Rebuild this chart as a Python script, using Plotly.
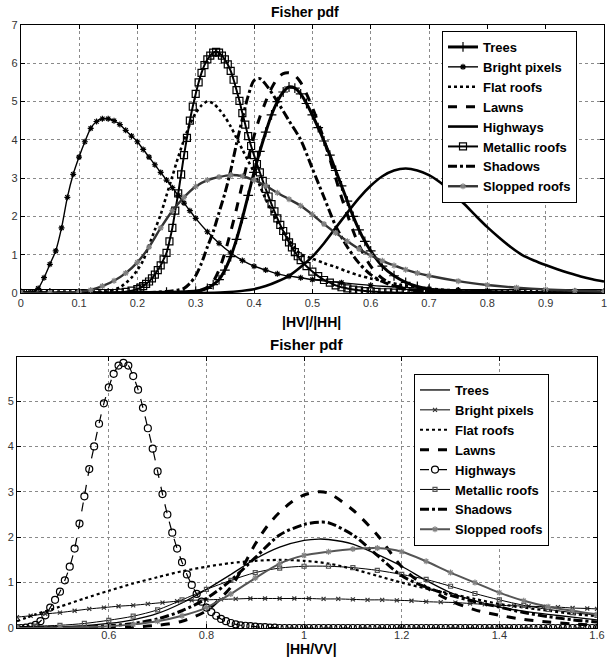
import plotly.graph_objects as go

# ---------------- Top panel : |HV|/|HH| ----------------
top_trees_x = [0, 0.05, 0.10, 0.15, 0.20, 0.25, 0.28, 0.30, 0.32, 0.33, 0.34, 0.35, 0.36, 0.37, 0.38, 0.39, 0.40, 0.41, 0.42, 0.43, 0.44, 0.45, 0.46, 0.47, 0.48, 0.49, 0.50, 0.51, 0.52, 0.53, 0.54, 0.55, 0.56, 0.57, 0.58, 0.59, 0.60, 0.62, 0.64, 0.66, 0.68, 0.70, 0.75, 0.80, 0.85, 0.90, 0.95, 1.0]
top_trees_y = [0, 0, 0, 0, 0.01, 0.02, 0.03, 0.05, 0.12, 0.22, 0.35, 0.6, 0.95, 1.4, 1.95, 2.55, 3.15, 3.7, 4.2, 4.65, 5.0, 5.25, 5.38, 5.35, 5.2, 4.95, 4.65, 4.32, 3.97, 3.6, 3.2, 2.8, 2.4, 2.0, 1.65, 1.35, 1.1, 0.7, 0.45, 0.28, 0.17, 0.1, 0.03, 0.01, 0, 0, 0, 0]

top_bright_x = [0, 0.01, 0.02, 0.03, 0.04, 0.05, 0.06, 0.07, 0.08, 0.09, 0.10, 0.11, 0.12, 0.13, 0.14, 0.15, 0.16, 0.17, 0.18, 0.19, 0.20, 0.21, 0.22, 0.23, 0.24, 0.25, 0.26, 0.27, 0.28, 0.29, 0.30, 0.32, 0.34, 0.36, 0.38, 0.40, 0.42, 0.44, 0.46, 0.48, 0.50, 0.55, 0.60, 0.65, 0.70, 0.75, 0.80, 0.85, 0.90, 0.95, 1.0]
top_bright_y = [0, 0, 0.02, 0.12, 0.4, 0.75, 1.1, 1.7, 2.5, 3.1, 3.55, 3.95, 4.3, 4.48, 4.55, 4.55, 4.5, 4.4, 4.25, 4.1, 3.95, 3.75, 3.55, 3.35, 3.15, 2.95, 2.75, 2.55, 2.35, 2.15, 1.95, 1.6, 1.3, 1.05, 0.85, 0.7, 0.6, 0.5, 0.44, 0.4, 0.35, 0.27, 0.2, 0.15, 0.11, 0.08, 0.06, 0.04, 0.03, 0.02, 0.02]

top_flat_x = [0, 0.05, 0.10, 0.15, 0.17, 0.19, 0.20, 0.21, 0.22, 0.23, 0.24, 0.25, 0.26, 0.27, 0.28, 0.29, 0.30, 0.31, 0.32, 0.33, 0.34, 0.35, 0.36, 0.37, 0.38, 0.39, 0.40, 0.41, 0.42, 0.43, 0.44, 0.45, 0.46, 0.47, 0.48, 0.50, 0.52, 0.54, 0.56, 0.58, 0.60, 0.62, 0.65, 0.70, 0.75, 0.80, 0.90, 1.0]
top_flat_y = [0, 0, 0, 0.05, 0.15, 0.4, 0.6, 0.85, 1.25, 1.65, 2.05, 2.55, 3.05, 3.55, 4.0, 4.4, 4.7, 4.9, 5.0, 4.95, 4.8, 4.6, 4.35, 4.05, 3.75, 3.45, 3.15, 2.8, 2.45, 2.15, 1.85, 1.6, 1.38, 1.18, 1.02, 0.9, 0.78, 0.68, 0.56, 0.46, 0.38, 0.32, 0.22, 0.12, 0.06, 0.03, 0.01, 0]

top_lawns_x = [0, 0.10, 0.20, 0.25, 0.30, 0.32, 0.33, 0.34, 0.35, 0.36, 0.37, 0.38, 0.39, 0.40, 0.41, 0.42, 0.43, 0.44, 0.45, 0.46, 0.47, 0.48, 0.49, 0.50, 0.51, 0.52, 0.53, 0.54, 0.55, 0.56, 0.57, 0.58, 0.60, 0.62, 0.64, 0.67, 0.70, 0.80, 0.90, 1.0]
top_lawns_y = [0, 0, 0, 0, 0.03, 0.15, 0.3, 0.6, 1.05, 1.6, 2.2, 2.85, 3.5, 4.1, 4.6, 5.0, 5.35, 5.6, 5.73, 5.75, 5.68, 5.5, 5.2, 4.85, 4.45, 4.0, 3.5, 3.0, 2.5, 2.05, 1.62, 1.25, 0.7, 0.38, 0.2, 0.08, 0.03, 0, 0, 0]

top_highways_x = [0, 0.10, 0.20, 0.30, 0.35, 0.40, 0.42, 0.44, 0.46, 0.48, 0.50, 0.52, 0.54, 0.56, 0.58, 0.60, 0.62, 0.64, 0.66, 0.68, 0.70, 0.72, 0.74, 0.76, 0.78, 0.80, 0.82, 0.84, 0.86, 0.88, 0.90, 0.92, 0.94, 0.96, 0.98, 1.0]
top_highways_y = [0, 0, 0, 0, 0.02, 0.1, 0.18, 0.3, 0.45, 0.68, 0.95, 1.3, 1.7, 2.1, 2.48, 2.8, 3.05, 3.2, 3.25, 3.2, 3.08, 2.88, 2.62, 2.33, 2.02, 1.72, 1.45, 1.2, 0.99, 0.85, 0.73, 0.62, 0.52, 0.43, 0.36, 0.3]

top_metal_x = [0, 0.01, 0.02, 0.03, 0.04, 0.05, 0.06, 0.07, 0.08, 0.09, 0.10, 0.11, 0.12, 0.13, 0.14, 0.15, 0.16, 0.17, 0.18, 0.19,
               0.200, 0.205, 0.210, 0.215, 0.220, 0.225, 0.230, 0.235, 0.240, 0.245, 0.250, 0.255, 0.260, 0.265, 0.270, 0.275, 0.280, 0.285, 0.290, 0.295,
               0.300, 0.305, 0.310, 0.315, 0.320, 0.325, 0.330, 0.335, 0.340, 0.345, 0.350, 0.355, 0.360, 0.365, 0.370, 0.375, 0.380, 0.385, 0.390, 0.395,
               0.400, 0.405, 0.410, 0.415, 0.420, 0.425, 0.430, 0.435, 0.440, 0.445, 0.450, 0.455, 0.460, 0.465, 0.470, 0.475, 0.480,
               0.49, 0.50, 0.51, 0.52, 0.53, 0.54, 0.55, 0.56, 0.57, 0.58, 0.59, 0.60, 0.61, 0.62, 0.63, 0.64, 0.65, 0.66, 0.67, 0.68, 0.69,
               0.70, 0.71, 0.72, 0.73, 0.74, 0.75, 0.76, 0.77, 0.78, 0.79, 0.80, 0.81, 0.82, 0.83, 0.84, 0.85, 0.86, 0.87, 0.88, 0.89,
               0.90, 0.91, 0.92, 0.93, 0.94, 0.95, 0.96, 0.97, 0.98, 0.99, 1.00]
top_metal_y = [0, 0, 0, 0, 0, 0, 0, 0, 0, 0, 0, 0, 0, 0, 0, 0, 0, 0.01, 0.03, 0.06,
               0.1, 0.14, 0.18, 0.24, 0.3, 0.38, 0.48, 0.6, 0.72, 0.88, 1.05, 1.35, 1.7, 2.15, 2.6, 3.1, 3.6, 4.05, 4.5, 4.87,
               5.2, 5.5, 5.75, 5.95, 6.1, 6.2, 6.28, 6.3, 6.28, 6.2, 6.1, 5.97, 5.8, 5.57, 5.3, 5.02, 4.7, 4.4, 4.1, 3.84,
               3.6, 3.37, 3.15, 2.93, 2.72, 2.52, 2.32, 2.13, 1.95, 1.78, 1.62, 1.47, 1.32, 1.19, 1.07, 0.96, 0.86,
               0.7, 0.56, 0.44, 0.34, 0.27, 0.2, 0.15, 0.12, 0.09, 0.07, 0.05, 0.04, 0.03, 0.02, 0.02, 0.01, 0.01, 0, 0, 0, 0,
               0, 0, 0, 0, 0, 0, 0, 0, 0, 0, 0, 0, 0, 0, 0, 0, 0, 0, 0, 0,
               0, 0, 0, 0, 0, 0, 0, 0, 0, 0, 0]

top_shadows_x = [0, 0.10, 0.20, 0.25, 0.27, 0.28, 0.29, 0.30, 0.31, 0.32, 0.33, 0.34, 0.35, 0.36, 0.37, 0.38, 0.39, 0.40, 0.41, 0.42, 0.44, 0.46, 0.48, 0.50, 0.52, 0.54, 0.56, 0.58, 0.60, 0.62, 0.64, 0.66, 0.70, 0.80, 0.90, 1.0]
top_shadows_y = [0, 0, 0, 0.04, 0.08, 0.12, 0.25, 0.45, 0.78, 1.2, 1.6, 2.1, 2.6, 3.2, 3.9, 4.55, 5.15, 5.55, 5.6, 5.45, 5.0, 4.5, 4.0, 3.25, 2.5, 1.75, 1.2, 0.78, 0.48, 0.3, 0.18, 0.1, 0.04, 0, 0, 0]

top_slopped_x = [0, 0.05, 0.10, 0.12, 0.14, 0.16, 0.18, 0.20, 0.22, 0.24, 0.26, 0.28, 0.30, 0.32, 0.34, 0.36, 0.38, 0.40, 0.42, 0.44, 0.46, 0.48, 0.50, 0.52, 0.54, 0.56, 0.58, 0.60, 0.62, 0.64, 0.66, 0.68, 0.70, 0.75, 0.80, 0.85, 0.90, 0.95, 1.0]
top_slopped_y = [0, 0, 0.03, 0.08, 0.18, 0.32, 0.52, 0.8, 1.2, 1.7, 2.15, 2.5, 2.78, 2.95, 3.03, 3.08, 3.05, 2.95, 2.8, 2.62, 2.45, 2.28, 2.05, 1.8, 1.57, 1.35, 1.15, 0.98, 0.84, 0.72, 0.61, 0.52, 0.45, 0.31, 0.21, 0.14, 0.09, 0.06, 0.04]

# ---------------- Bottom panel : |HH/VV| ----------------
bot_trees_x = [0.412, 0.50, 0.55, 0.60, 0.65, 0.70, 0.75, 0.80, 0.85, 0.90, 0.95, 1.00, 1.03, 1.05, 1.10, 1.15, 1.20, 1.25, 1.30, 1.35, 1.40, 1.45, 1.50, 1.55, 1.60]
bot_trees_y = [0.01, 0.03, 0.05, 0.1, 0.18, 0.32, 0.55, 0.85, 1.18, 1.52, 1.78, 1.93, 1.96, 1.95, 1.85, 1.62, 1.36, 1.05, 0.78, 0.6, 0.46, 0.37, 0.3, 0.24, 0.18]

bot_bright_x = [0.412, 0.44, 0.47, 0.50, 0.53, 0.56, 0.59, 0.62, 0.65, 0.68, 0.71, 0.74, 0.77, 0.80, 0.83, 0.86, 0.89, 0.92, 0.95, 0.98, 1.01, 1.04, 1.07, 1.10, 1.13, 1.16, 1.19, 1.22, 1.25, 1.28, 1.31, 1.34, 1.37, 1.40, 1.43, 1.46, 1.49, 1.52, 1.55, 1.58, 1.60]
bot_bright_y = [0.24, 0.27, 0.31, 0.34, 0.38, 0.42, 0.45, 0.48, 0.5, 0.53, 0.56, 0.59, 0.61, 0.62, 0.63, 0.64, 0.65, 0.65, 0.65, 0.65, 0.65, 0.64, 0.64, 0.63, 0.62, 0.62, 0.61, 0.6, 0.58, 0.57, 0.56, 0.54, 0.52, 0.5, 0.49, 0.48, 0.47, 0.46, 0.44, 0.43, 0.42]

bot_flat_x = [0.412, 0.45, 0.50, 0.55, 0.60, 0.65, 0.70, 0.75, 0.80, 0.85, 0.90, 0.95, 1.00, 1.05, 1.10, 1.15, 1.20, 1.25, 1.30, 1.35, 1.40, 1.45, 1.50, 1.55, 1.60]
bot_flat_y = [0.15, 0.3, 0.47, 0.65, 0.82, 0.98, 1.12, 1.25, 1.35, 1.43, 1.48, 1.5, 1.48, 1.42, 1.3, 1.15, 1.0, 0.87, 0.76, 0.64, 0.53, 0.45, 0.38, 0.31, 0.26]

bot_lawns_x = [0.412, 0.50, 0.60, 0.65, 0.70, 0.75, 0.80, 0.85, 0.875, 0.90, 0.925, 0.95, 0.975, 1.00, 1.03, 1.05, 1.10, 1.15, 1.20, 1.25, 1.30, 1.35, 1.40, 1.45, 1.50, 1.55, 1.60]
bot_lawns_y = [0, 0, 0.0, 0.02, 0.06, 0.15, 0.38, 0.9, 1.35, 1.85, 2.25, 2.55, 2.78, 2.93, 3.0, 2.97, 2.6, 2.05, 1.35, 0.9, 0.6, 0.4, 0.28, 0.19, 0.13, 0.09, 0.06]

bot_highways_x = [0.412, 0.42, 0.43, 0.44, 0.45, 0.46, 0.47, 0.48, 0.49,
                  0.50, 0.51, 0.52, 0.53, 0.54, 0.55, 0.56, 0.57, 0.58, 0.59,
                  0.60, 0.61, 0.62, 0.63, 0.64, 0.65, 0.66, 0.67, 0.68, 0.69,
                  0.70, 0.71, 0.72, 0.73, 0.74, 0.75, 0.76, 0.77, 0.78, 0.79,
                  0.80, 0.81, 0.82, 0.83, 0.84, 0.85, 0.86, 0.87, 0.88, 0.89,
                  0.90, 0.91, 0.92, 0.93, 0.94, 0.95, 0.96, 0.97, 0.98, 0.99,
                  1.00, 1.01, 1.02, 1.03, 1.04, 1.05, 1.06, 1.07, 1.08, 1.09,
                  1.10, 1.11, 1.12, 1.13, 1.14, 1.15, 1.16, 1.17, 1.18, 1.19,
                  1.20, 1.21, 1.22, 1.23, 1.24, 1.25, 1.26, 1.27, 1.28, 1.29,
                  1.30, 1.31, 1.32, 1.33, 1.34, 1.35, 1.36, 1.37, 1.38, 1.39,
                  1.40, 1.41, 1.42, 1.43, 1.44, 1.45, 1.46, 1.47, 1.48, 1.49,
                  1.50, 1.51, 1.52, 1.53, 1.54, 1.55, 1.56, 1.57, 1.58, 1.59, 1.60]
bot_highways_y = [0, 0, 0.01, 0.03, 0.07, 0.15, 0.28, 0.45, 0.62,
                  0.8, 1.05, 1.35, 1.75, 2.3, 2.9, 3.5, 4.0, 4.5, 4.95,
                  5.3, 5.6, 5.78, 5.84, 5.78, 5.55, 5.25, 4.85, 4.4, 3.95,
                  3.45, 2.95, 2.5, 2.1, 1.75, 1.45, 1.18, 0.95, 0.75, 0.58,
                  0.45, 0.35, 0.27, 0.2, 0.15, 0.11, 0.08, 0.06, 0.05, 0.04,
                  0.03, 0.02, 0.02, 0.01, 0.01, 0, 0, 0, 0, 0,
                  0, 0, 0, 0, 0, 0, 0, 0, 0, 0,
                  0, 0, 0, 0, 0, 0, 0, 0, 0, 0,
                  0, 0, 0, 0, 0, 0, 0, 0, 0, 0,
                  0, 0, 0, 0, 0, 0, 0, 0, 0, 0,
                  0, 0, 0, 0, 0, 0, 0, 0, 0, 0,
                  0, 0, 0, 0, 0, 0, 0, 0, 0, 0, 0]

bot_metal_x = [0.412, 0.45, 0.50, 0.55, 0.60, 0.65, 0.70, 0.75, 0.80, 0.85, 0.90, 0.95, 1.00, 1.05, 1.10, 1.15, 1.20, 1.25, 1.30, 1.35, 1.40, 1.45, 1.50, 1.55, 1.60]
bot_metal_y = [0.02, 0.04, 0.06, 0.1, 0.17, 0.26, 0.4, 0.62, 0.85, 1.05, 1.22, 1.32, 1.36, 1.36, 1.33, 1.27, 1.18, 1.07, 0.92, 0.76, 0.62, 0.5, 0.41, 0.34, 0.28]

bot_shadows_x = [0.412, 0.50, 0.55, 0.60, 0.65, 0.70, 0.75, 0.80, 0.85, 0.90, 0.95, 1.00, 1.03, 1.05, 1.10, 1.15, 1.20, 1.25, 1.30, 1.35, 1.40, 1.45, 1.50, 1.55, 1.60]
bot_shadows_y = [0, 0.01, 0.02, 0.05, 0.1, 0.2, 0.38, 0.65, 1.05, 1.55, 2.05, 2.28, 2.33, 2.32, 2.05, 1.6, 1.15, 0.9, 0.72, 0.58, 0.46, 0.34, 0.25, 0.18, 0.13]

bot_slopped_x = [0.412, 0.50, 0.60, 0.65, 0.70, 0.75, 0.80, 0.85, 0.90, 0.95, 1.00, 1.05, 1.10, 1.15, 1.20, 1.25, 1.30, 1.35, 1.40, 1.45, 1.50, 1.55, 1.60]
bot_slopped_y = [0, 0.01, 0.04, 0.08, 0.15, 0.27, 0.45, 0.75, 1.1, 1.42, 1.6, 1.68, 1.74, 1.76, 1.68, 1.47, 1.22, 1.0, 0.78, 0.6, 0.47, 0.38, 0.3]

names = ["Trees", "Bright pixels", "Flat roofs", "Lawns", "Highways", "Metallic roofs", "Shadows", "Slopped roofs"]
top_data = [(top_trees_x, top_trees_y), (top_bright_x, top_bright_y), (top_flat_x, top_flat_y),
            (top_lawns_x, top_lawns_y), (top_highways_x, top_highways_y), (top_metal_x, top_metal_y),
            (top_shadows_x, top_shadows_y), (top_slopped_x, top_slopped_y)]
bot_data = [(bot_trees_x, bot_trees_y), (bot_bright_x, bot_bright_y), (bot_flat_x, bot_flat_y),
            (bot_lawns_x, bot_lawns_y), (bot_highways_x, bot_highways_y), (bot_metal_x, bot_metal_y),
            (bot_shadows_x, bot_shadows_y), (bot_slopped_x, bot_slopped_y)]
for xs, ys in top_data + bot_data:
    assert len(xs) == len(ys), (len(xs), len(ys))

# style: (line color, width, dash, mode, marker symbol, marker size, marker color)
top_styles = [
    ("black", 3, "solid", "lines+markers", "cross-thin-open", 7, "black"),
    ("black", 1.4, "solid", "lines+markers", "asterisk-open", 5, "black"),
    ("black", 2.6, "dot", "lines", None, 0, None),
    ("black", 3, "dash", "lines", None, 0, None),
    ("black", 2.6, "solid", "lines", None, 0, None),
    ("black", 2, "solid", "lines+markers", "square-open", 7, "black"),
    ("black", 3, "dashdot", "lines", None, 0, None),
    ("#333333", 2.4, "solid", "lines+markers", "asterisk-open", 5, "#808080"),
]
bot_styles = [
    ("black", 1.3, "solid", "lines", None, 0, None),
    ("black", 1.0, "solid", "lines+markers", "x-thin-open", 4, "#333333"),
    ("black", 2.2, "dot", "lines", None, 0, None),
    ("black", 3, "dash", "lines", None, 0, None),
    ("black", 1.2, "dash", "lines+markers", "circle-open", 7, "black"),
    ("black", 1.0, "solid", "lines+markers", "square-open", 4, "#555555"),
    ("black", 3, "dashdot", "lines", None, 0, None),
    ("#555555", 2.0, "solid", "lines+markers", "asterisk-open", 5, "#808080"),
]

fig = go.Figure()


def add(data, styles, xa, ya, leg):
    for name, (xs, ys), st in zip(names, data, styles):
        col, w, dash, mode, sym, ms, mcol = st
        kw = dict(x=xs, y=ys, name=name, mode=mode, xaxis=xa, yaxis=ya, legend=leg,
                  line=dict(color=col, width=w, dash=dash, shape="spline", smoothing=0.8))
        if sym:
            kw["marker"] = dict(symbol=sym, size=ms, color=mcol, line=dict(color=mcol, width=1.2))
        fig.add_trace(go.Scatter(**kw))


add(top_data, top_styles, "x", "y", "legend")
add(bot_data, bot_styles, "x2", "y2", "legend2")

W, H = 607, 657
axis_common = dict(showline=True, linecolor="black", linewidth=1, mirror="ticks", ticks="inside",
                   ticklen=4, tickcolor="black", showgrid=True, gridcolor="#8a8a8a", griddash="dot",
                   gridwidth=1, zeroline=False, automargin=False, ticklabeloverflow="allow",
                   tickfont=dict(family="Arial, Liberation Sans", size=11, color="#333333"))

leg_font = dict(family="Arial, Liberation Sans", size=13, color="black", weight="bold")

fig.update_layout(
    width=W, height=H, margin=dict(l=0, r=0, t=0, b=0),
    paper_bgcolor="white", plot_bgcolor="white",
    xaxis=dict(domain=[20.7 / W, 604 / W], range=[0, 1], tickvals=[0, 0.1, 0.2, 0.3, 0.4, 0.5, 0.6, 0.7, 0.8, 0.9, 1],
               ticktext=["0", "0.1", "0.2", "0.3", "0.4", "0.5", "0.6", "0.7", "0.8", "0.9", "1"], anchor="y", **axis_common),
    yaxis=dict(domain=[1 - 293 / H, 1 - 25 / H], range=[0, 7], tickvals=[0, 1, 2, 3, 4, 5, 6, 7], anchor="x", **axis_common),
    xaxis2=dict(domain=[17 / W, 597 / W], range=[0.412, 1.60], tickvals=[0.6, 0.8, 1.0, 1.2, 1.4, 1.6],
                ticktext=["0.6", "0.8", "1", "1.2", "1.4", "1.6"], anchor="y2", ticklabelstandoff=-3, **axis_common),
    yaxis2=dict(domain=[1 - 628 / H, 1 - 357 / H], range=[0, 5.97], tickvals=[0, 1, 2, 3, 4, 5], anchor="x2", **axis_common),
    legend=dict(x=442 / W, y=1 - 31 / H, xanchor="left", yanchor="top", bgcolor="white", bordercolor="black",
                borderwidth=1, font=leg_font, tracegroupgap=0, itemwidth=30),
    legend2=dict(x=414 / W, y=1 - 374 / H, xanchor="left", yanchor="top", bgcolor="white", bordercolor="black",
                 borderwidth=1, font=leg_font, tracegroupgap=0, itemwidth=30),
    annotations=[
        dict(text="<b>Fisher pdf</b>", x=305 / W, y=1 - 12 / H, xref="paper", yref="paper", showarrow=False,
             xanchor="center", yanchor="middle", font=dict(family="Arial, Liberation Sans", size=14, color="black")),
        dict(text="<b>|HV|/|HH|</b>", x=311 / W, y=1 - 322 / H, xref="paper", yref="paper", showarrow=False,
             xanchor="center", yanchor="middle", font=dict(family="Arial, Liberation Sans", size=14, color="black")),
        dict(text="<b>Fisher pdf</b>", x=307 / W, y=1 - 344 / H, xref="paper", yref="paper", showarrow=False,
             xanchor="center", yanchor="middle", font=dict(family="Arial, Liberation Sans", size=15, color="black")),
        dict(text="<b>|HH/VV|</b>", x=311 / W, y=1 - 649 / H, xref="paper", yref="paper", showarrow=False,
             xanchor="center", yanchor="middle", font=dict(family="Arial, Liberation Sans", size=14, color="black")),
    ],
)

fig.write_html("out.html", config={"displayModeBar": False},
               post_script="document.body.style.margin='0px';document.body.style.overflow='hidden';")
